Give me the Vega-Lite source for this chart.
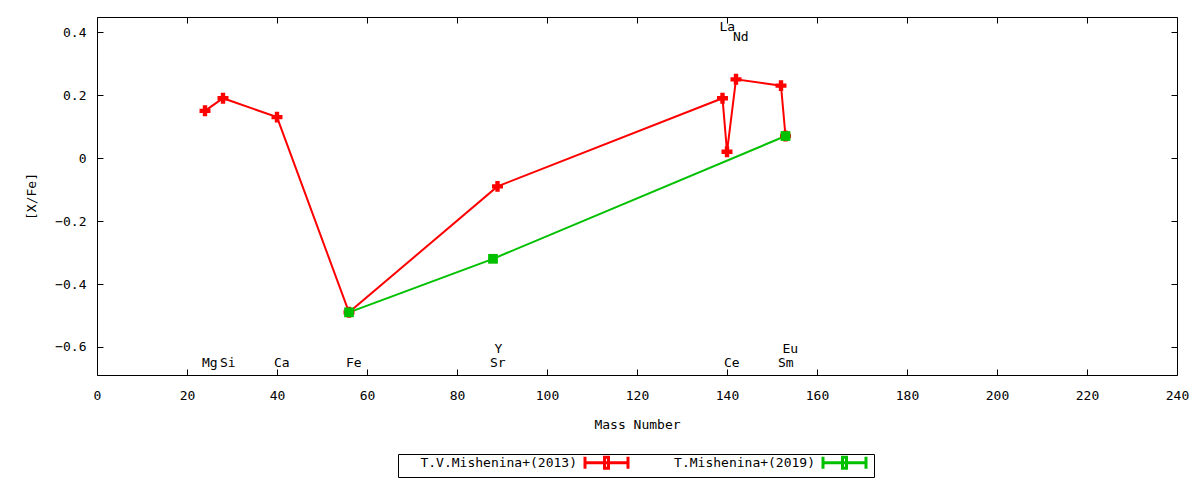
{
  "$schema": "https://vega.github.io/schema/vega-lite/v6.json",
  "width": 1080,
  "height": 358,
  "autosize": {"type": "none"},
  "padding": {"left": 97, "top": 17, "right": 23, "bottom": 105},
  "background": "white",
  "config": {
    "font": "DejaVu Sans Mono",
    "view": {"stroke": "black", "strokeWidth": 1},
    "axis": {
      "grid": false,
      "domain": false,
      "tickColor": "black",
      "tickSize": -6,
      "labelFlush": false,
      "labelColor": "black",
      "labelFont": "DejaVu Sans Mono",
      "labelFontSize": 13,
      "titleFont": "DejaVu Sans Mono",
      "titleFontSize": 13,
      "titleFontWeight": "normal",
      "titleColor": "black"
    }
  },
  "datasets": {
    "abund": [
      {"ref": "T.V.Mishenina+(2013)", "el": "Mg", "A": 24, "xfe": 0.15},
      {"ref": "T.V.Mishenina+(2013)", "el": "Si", "A": 28, "xfe": 0.19},
      {"ref": "T.V.Mishenina+(2013)", "el": "Ca", "A": 40, "xfe": 0.13},
      {"ref": "T.V.Mishenina+(2013)", "el": "Fe", "A": 56, "xfe": -0.49},
      {"ref": "T.V.Mishenina+(2013)", "el": "Y", "A": 89, "xfe": -0.09},
      {"ref": "T.V.Mishenina+(2013)", "el": "La", "A": 139, "xfe": 0.19},
      {"ref": "T.V.Mishenina+(2013)", "el": "Ce", "A": 140, "xfe": 0.02},
      {"ref": "T.V.Mishenina+(2013)", "el": "Nd", "A": 142, "xfe": 0.25},
      {"ref": "T.V.Mishenina+(2013)", "el": "Sm", "A": 152, "xfe": 0.23},
      {"ref": "T.V.Mishenina+(2013)", "el": "Eu", "A": 153, "xfe": 0.07},
      {"ref": "T.Mishenina+(2019)", "el": "Fe", "A": 56, "xfe": -0.49},
      {"ref": "T.Mishenina+(2019)", "el": "Sr", "A": 88, "xfe": -0.32},
      {"ref": "T.Mishenina+(2019)", "el": "Eu", "A": 153, "xfe": 0.07}
    ],
    "labels": [
      {"el": "Mg", "A": 24, "ly": -0.65},
      {"el": "Si", "A": 28, "ly": -0.65},
      {"el": "Ca", "A": 40, "ly": -0.65},
      {"el": "Fe", "A": 56, "ly": -0.65},
      {"el": "Sr", "A": 88, "ly": -0.65},
      {"el": "Y", "A": 89, "ly": -0.605},
      {"el": "La", "A": 139, "ly": 0.415},
      {"el": "Ce", "A": 140, "ly": -0.65},
      {"el": "Nd", "A": 142, "ly": 0.383},
      {"el": "Sm", "A": 152, "ly": -0.65},
      {"el": "Eu", "A": 153, "ly": -0.605}
    ]
  },
  "resolve": {"axis": {"x": "independent", "y": "independent"}},
  "layer": [
    {
      "data": {"name": "abund"},
      "mark": {"type": "line", "strokeWidth": 2},
      "encoding": {
        "x": {
          "field": "A", "type": "quantitative",
          "scale": {"domain": [0, 240], "nice": false},
          "axis": {"title": "Mass Number", "values": [0,20,40,60,80,100,120,140,160,180,200,220,240], "labelPadding": 20, "titlePadding": 16}
        },
        "y": {
          "field": "xfe", "type": "quantitative",
          "scale": {"domain": [-0.689, 0.448], "nice": false, "zero": false},
          "axis": {"title": "[X/Fe]", "values": [-0.6,-0.4,-0.2,0,0.2,0.4], "labelExpr": "datum.value == 0 ? '0' : datum.label", "labelPadding": 17, "titlePadding": 16}
        },
        "color": {
          "field": "ref", "type": "nominal",
          "scale": {"domain": ["T.V.Mishenina+(2013)", "T.Mishenina+(2019)"], "range": ["#ff0000", "#00c000"]},
          "legend": {
            "title": null,
            "orient": "none",
            "legendX": 301,
            "legendY": 437,
            "direction": "horizontal",
            "strokeColor": "black",
            "padding": 2,
            "labelFont": "DejaVu Sans Mono",
            "labelFontSize": 13,
            "labelColor": "black",
            "labelAlign": "right",
            "labelOffset": 164,
            "columnPadding": 4,
            "symbolType": "M35.7,0H44.3M35.7,-1.2V1.2M44.3,-1.2V1.2M39.6,-1.1V1.1H40.4V-1.1Z",
            "symbolSize": 100,
            "symbolStrokeWidth": 3
          }
        },
        "order": {"field": "A", "type": "quantitative"}
      }
    },
    {
      "data": {"name": "abund"},
      "transform": [{"filter": "datum.ref == 'T.V.Mishenina+(2013)'"}],
      "mark": {"type": "point", "shape": "cross", "filled": true, "opacity": 1, "color": "#ff0000", "size": 120},
      "encoding": {
        "x": {"field": "A", "type": "quantitative", "axis": {"labels": false, "title": null, "values": [0,20,40,60,80,100,120,140,160,180,200,220,240]}},
        "y": {"field": "xfe", "type": "quantitative", "axis": {"labels": false, "title": null, "values": [-0.6,-0.4,-0.2,0,0.2,0.4]}}
      }
    },
    {
      "data": {"name": "abund"},
      "transform": [{"filter": "datum.ref == 'T.Mishenina+(2019)'"}],
      "mark": {"type": "point", "shape": "square", "filled": true, "opacity": 1, "color": "#00c000", "size": 95},
      "encoding": {
        "x": {"field": "A", "type": "quantitative", "axis": null},
        "y": {"field": "xfe", "type": "quantitative", "axis": null}
      }
    },
    {
      "data": {"name": "labels"},
      "mark": {"type": "text", "align": "left", "dx": -3, "fontSize": 13, "font": "DejaVu Sans Mono", "color": "black"},
      "encoding": {
        "x": {"field": "A", "type": "quantitative", "axis": null},
        "y": {"field": "ly", "type": "quantitative", "axis": null},
        "text": {"field": "el"}
      }
    }
  ]
}
